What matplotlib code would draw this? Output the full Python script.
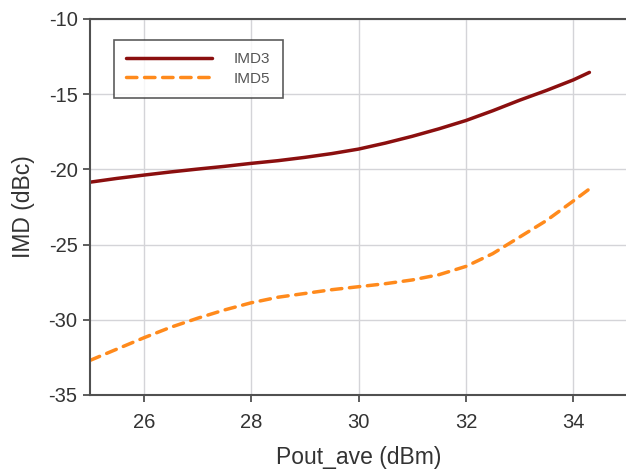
import matplotlib
matplotlib.use("Agg")
import matplotlib.pyplot as plt

plt.rcParams['font.family'] = ['Liberation Sans', 'DejaVu Sans']
plt.rcParams['axes.unicode_minus'] = False

pout = [25.0, 25.5, 26.0, 26.5, 27.0, 27.5, 28.0, 28.5, 29.0, 29.5, 30.0,
        30.5, 31.0, 31.5, 32.0, 32.5, 33.0, 33.5, 34.0, 34.3]
imd3 = [-20.85, -20.6, -20.38, -20.17, -19.98, -19.8, -19.6, -19.42, -19.2, -18.95,
        -18.65, -18.25, -17.8, -17.3, -16.75, -16.1, -15.4, -14.75, -14.05, -13.55]
imd5 = [-32.7, -31.95, -31.2, -30.5, -29.9, -29.35, -28.87, -28.5, -28.25, -28.0,
        -27.8, -27.6, -27.35, -27.0, -26.45, -25.6, -24.5, -23.4, -22.1, -21.3]
xticks = [26, 28, 30, 32, 34]
yticks = [-35, -30, -25, -20, -15, -10]

fig = plt.figure(figsize=(6.26, 4.75), dpi=100)
ax = fig.add_axes([90/626, 1-395/475, 537/626, (395-19)/475])

ax.plot(pout, imd3, color='#8B0F0F', lw=2.5, label='IMD3', solid_capstyle='round')
ax.plot(pout, imd5, color='#FF8A1C', lw=2.5, dashes=(3.0, 2.2), label='IMD5',
        dash_capstyle='round')

ax.set_xlim(25, 35)
ax.set_ylim(-35, -10)
ax.set_xticks(xticks)
ax.set_yticks(yticks)
ax.grid(True, color='#D4D4D8', lw=1.0)
ax.set_axisbelow(True)
ax.spines['right'].set_visible(False)
for s in ['left', 'bottom', 'top']:
    ax.spines[s].set_color('#505050')
    ax.spines[s].set_linewidth(1.5)
ax.tick_params(axis='both', direction='out', length=5, width=1.3, color='#505050',
               labelsize=14.5, labelcolor='#333333', pad=4)
ax.tick_params(axis='x', pad=8)

ax.set_xlabel('Pout_ave (dBm)', fontsize=16.5, color='#333333', labelpad=10)
ax.set_ylabel('IMD (dBc)', fontsize=16.5, color='#333333', labelpad=10)

leg = ax.legend(loc='upper left', bbox_to_anchor=((114-90)/537, 1-(40-19)/376),
                fontsize=11, frameon=True, fancybox=False, borderpad=0.8,
                handlelength=5.6, labelspacing=0.35,
                handletextpad=1.45, borderaxespad=0)
leg.get_frame().set_edgecolor('#333333')
leg.get_frame().set_linewidth(1.2)
for t in leg.get_texts():
    t.set_color('#555555')

fig.savefig('out.png', dpi=100)
